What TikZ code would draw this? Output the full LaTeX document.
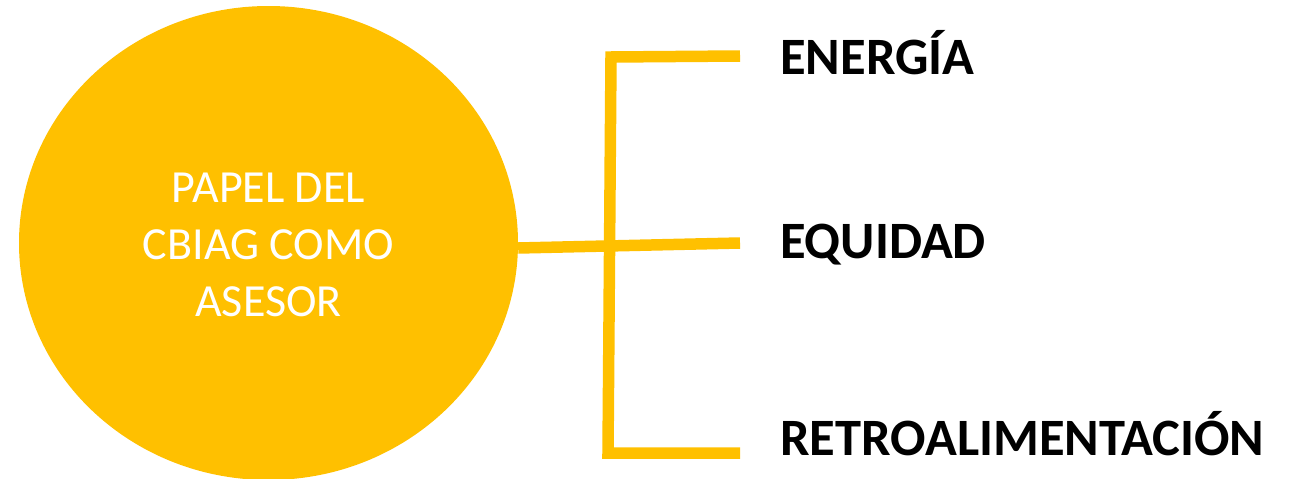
\documentclass[tikz,border=0pt]{standalone}
\usepackage{fontspec}
\setmainfont{Carlito}
\usetikzlibrary{shapes.geometric}
\definecolor{gold}{HTML}{FFC000}
\tikzset{
  hub/.style={ellipse, fill=gold, draw=none, minimum width=499pt, minimum height=474pt, inner sep=0pt},
  hubtext/.style={text=white, font=\fontsize{46}{57}\selectfont, align=center},
  label/.style={anchor=base west, inner sep=0pt, font=\fontsize{52.5}{60}\bfseries\selectfont, text=black},
  bar/.style={draw=gold, line width=11.5pt}
}
\begin{document}
\begin{tikzpicture}[x=1pt,y=-1pt]
\useasboundingbox (0,0) rectangle (1299,479);
\node[hub] (c) at (268.5,243) {};
\node[hubtext] (ct) at (268.5,245) {PAPEL DEL\\CBIAG COMO\\ASESOR};
\node[label] (l1) at (780,74.5) {ENERGÍA};
\node[label] (l2) at (780,258.5) {EQUIDAD};
\node[label] (l3) at (780,455) {RETROALIMENTACIÓN};
\coordinate (t) at (611,57);
\coordinate (b) at (608,453);
\coordinate (e1) at (740,56);
\coordinate (e2) at (740,243);
\coordinate (e3) at (740,453);
\draw[bar] (e1) -- (t) -- (b) -- (e3);
\draw[bar] ([yshift=-5pt]c.east) -- (e2);
\end{tikzpicture}
\end{document}
